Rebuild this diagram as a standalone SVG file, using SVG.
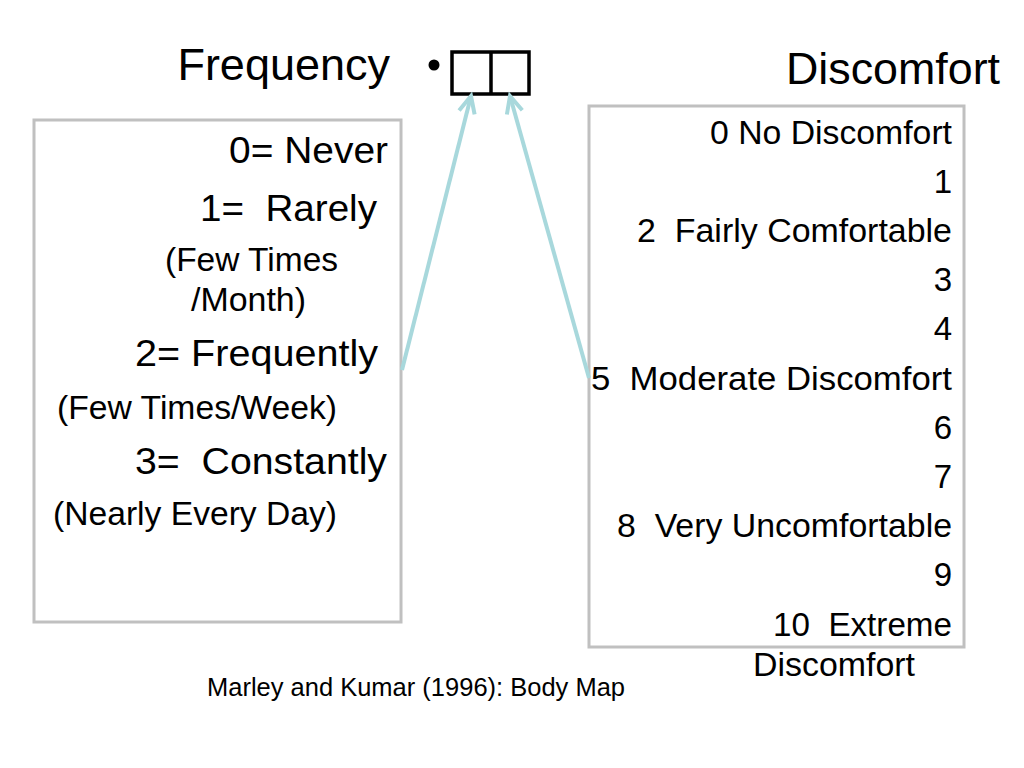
<svg xmlns="http://www.w3.org/2000/svg" width="1024" height="768" viewBox="0 0 1024 768">
<defs>
<style>
text{font-family:"Liberation Sans",Arial,sans-serif;fill:#000;white-space:pre}
.title{font-size:45px}
.main{font-size:36px}
.sub{font-size:33px}
.r{font-size:33px}
.end{text-anchor:end}
.box{fill:#fff;stroke:#c0c0c0;stroke-width:3}
.conn{fill:none;stroke:#a8d8dc;stroke-width:4}
</style>
<marker id="chev" markerUnits="userSpaceOnUse" markerWidth="40" markerHeight="40" viewBox="-20 -20 40 40" refX="0" refY="0" orient="auto">
<path d="M-17,-8 L0,0 L-17,8" fill="none" stroke="#a8d8dc" stroke-width="4" stroke-linejoin="miter"/>
</marker>
</defs>
<rect width="1024" height="768" fill="#fff"/>

<g id="title-frequency"><text class="title end" x="390" y="80">Frequency</text></g>
<g id="title-discomfort"><text class="title" x="786" y="84" textLength="214" lengthAdjust="spacingAndGlyphs">Discomfort</text></g>

<g id="bullet-boxes">
<circle cx="434" cy="65" r="5.5" fill="#000"/>
<rect x="452" y="52" width="77" height="42" fill="#fff" stroke="#000" stroke-width="3.5"/>
<line x1="491" y1="52" x2="491" y2="94" stroke="#000" stroke-width="3.5"/>
</g>

<g id="frequency-box">
<rect class="box" x="34" y="120" width="367" height="502"/>
<text class="main" x="229" y="163" textLength="159" lengthAdjust="spacingAndGlyphs">0= Never</text>
<text class="main" x="200" y="221" textLength="177" lengthAdjust="spacingAndGlyphs">1=  Rarely</text>
<text class="sub" x="165" y="271" textLength="173" lengthAdjust="spacingAndGlyphs">(Few Times</text>
<text class="sub" x="191" y="311" textLength="115" lengthAdjust="spacingAndGlyphs">/Month)</text>
<text class="main" x="135" y="366" textLength="243" lengthAdjust="spacingAndGlyphs">2= Frequently</text>
<text class="sub" x="57" y="419" textLength="280" lengthAdjust="spacingAndGlyphs">(Few Times/Week)</text>
<text class="main" x="135" y="474" textLength="252" lengthAdjust="spacingAndGlyphs">3=  Constantly</text>
<text class="sub" x="53" y="525" textLength="284" lengthAdjust="spacingAndGlyphs">(Nearly Every Day)</text>
</g>

<g id="discomfort-box">
<rect class="box" x="589" y="106" width="375" height="541"/>
<text class="r" x="710" y="144" textLength="242" lengthAdjust="spacingAndGlyphs">0 No Discomfort</text>
<text class="r end" x="952" y="193">1</text>
<text class="r" x="637" y="242" textLength="315" lengthAdjust="spacingAndGlyphs">2  Fairly Comfortable</text>
<text class="r end" x="952" y="291">3</text>
<text class="r end" x="952" y="340">4</text>
<text class="r" x="591" y="390" textLength="361" lengthAdjust="spacingAndGlyphs">5  Moderate Discomfort</text>
<text class="r end" x="952" y="439">6</text>
<text class="r end" x="952" y="488">7</text>
<text class="r" x="617" y="537" textLength="335" lengthAdjust="spacingAndGlyphs">8  Very Uncomfortable</text>
<text class="r end" x="952" y="586">9</text>
<text class="r" x="773" y="636" textLength="179" lengthAdjust="spacingAndGlyphs">10  Extreme</text>
<text class="r" x="753" y="676" textLength="162" lengthAdjust="spacingAndGlyphs">Discomfort</text>
</g>

<g id="connectors">
<line class="conn" x1="402" y1="370" x2="471" y2="96" marker-end="url(#chev)"/>
<line class="conn" x1="589" y1="378" x2="510" y2="96" marker-end="url(#chev)"/>
</g>

<g id="caption"><text x="207" y="696" font-size="25" textLength="418" lengthAdjust="spacingAndGlyphs">Marley and Kumar (1996): Body Map</text></g>
</svg>
